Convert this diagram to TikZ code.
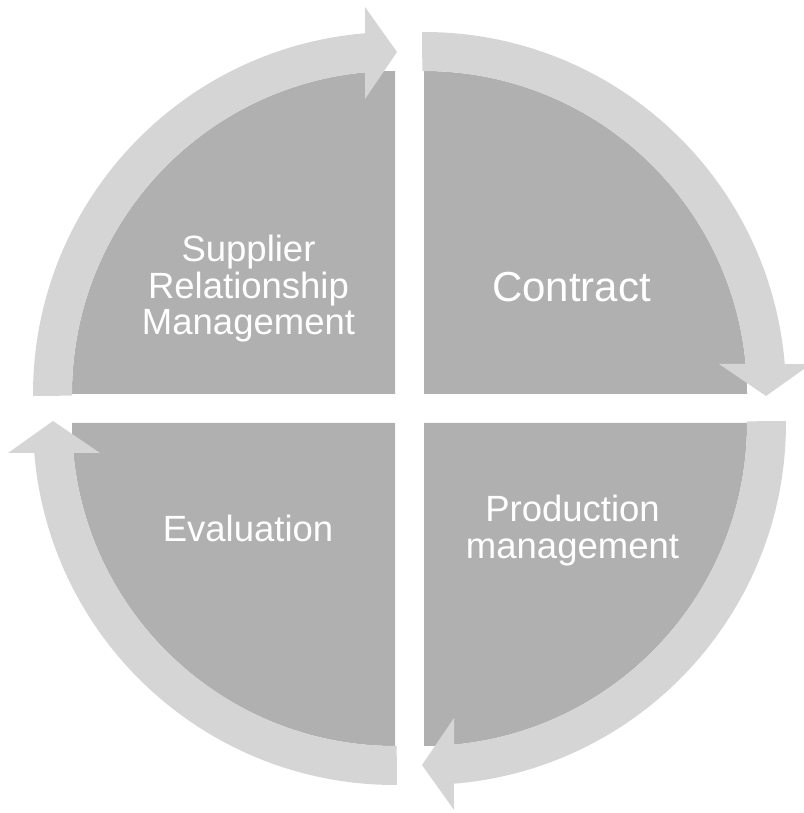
\documentclass[tikz,border=0pt]{standalone}
\usepackage{fontspec}
\setmainfont{Liberation Sans}
\definecolor{sectorgray}{HTML}{B0B0B0}
\definecolor{ringgray}{HTML}{D5D5D5}
\begin{document}
\begin{tikzpicture}[x=1pt,y=1pt,
  sectorfill/.style={fill=sectorgray},
  ringarrow/.style={fill=ringgray},
  lbl/.style={text=white, font=\fontsize{36.5}{36.5}\selectfont, anchor=base, inner sep=0pt},
  biglbl/.style={lbl, font=\fontsize{42}{42}\selectfont}]
\useasboundingbox (0,0) rectangle (803,813);
% sectors
\foreach \cx/\cy/\rot in {395/419/0, 424/419/-90, 424/390/-180, 395/390/90} {
  \begin{scope}[shift={(\cx,\cy)}, rotate=\rot]
    \fill[sectorfill] (0,0) -- (180:323) arc[start angle=180, end angle=90, radius=323] -- cycle;
  \end{scope}
}
% circular arrows
\foreach \cx/\cy/\rot in {395/419/0, 424/419/-90, 424/390/-180, 395/390/90} {
  \begin{scope}[shift={(\cx,\cy)}, rotate=\rot]
    \fill[ringarrow] (180.3:362) arc[start angle=180.3, end angle=94.75, radius=362]
      -- (-30,387) -- (2,342) -- (-30,295) -- (95.33:323)
      arc[start angle=95.33, end angle=180.3, radius=323] -- cycle;
  \end{scope}
}
% labels
\node[lbl] (srm1) at (248.5,551) {Supplier};
\node[lbl] (srm2) at (248.5,514.5) {Relationship};
\node[lbl] (srm3) at (248.5,478) {Management};
\node[biglbl] (contract) at (571.5,511) {Contract};
\node[lbl] (eval) at (248,271) {Evaluation};
\node[lbl] (prod1) at (572.5,291) {Production};
\node[lbl] (prod2) at (572.5,254) {management};
\end{tikzpicture}
\end{document}
